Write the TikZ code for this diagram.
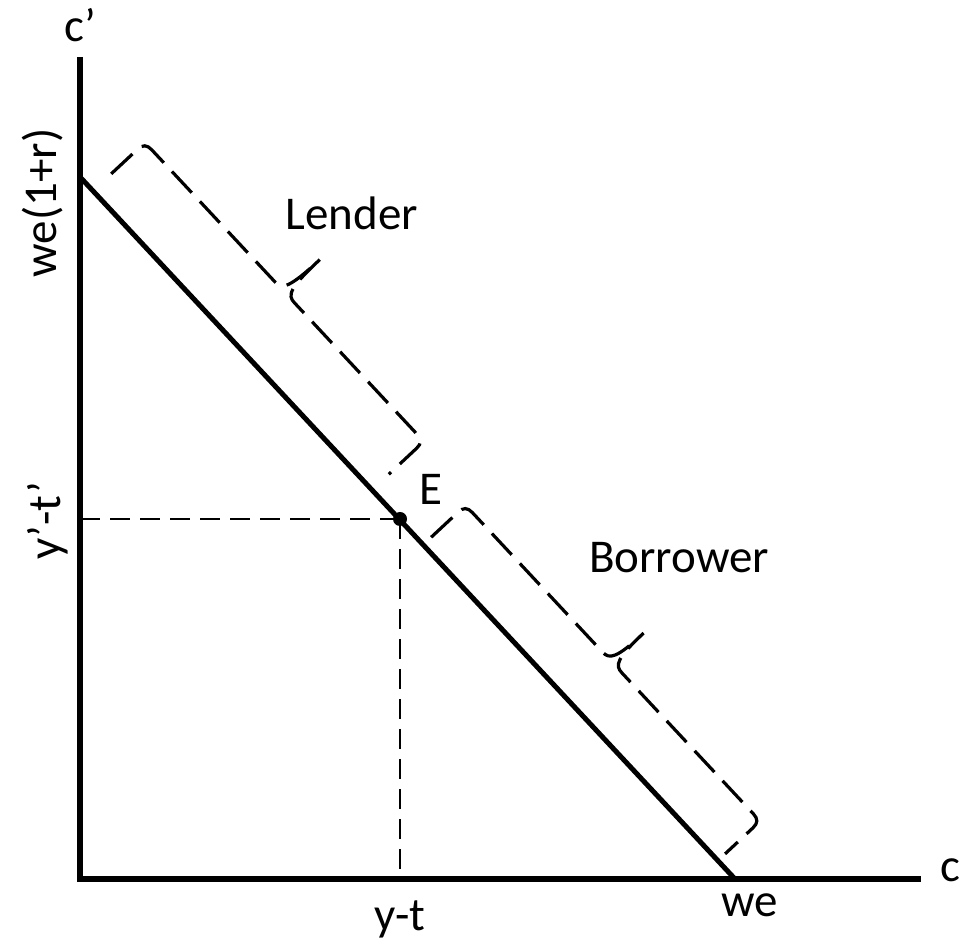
\documentclass[tikz,border=0pt]{standalone}
\usepackage{fontspec}
\setmainfont{Carlito}
\newcommand{\mybrace}[7]{% s e h m t f e2
  \draw[bracedash] (#1,#2) -- (#1,#3-10) .. controls (#1,#3-3) and (#1+3,#3) .. (#1+10,#3)
    -- (#4-14,#3) .. controls (#4-4,#3) and (#4,#3+6) .. (#4,#5)
    .. controls (#4,#3+6) and (#4+4,#3) .. (#4+14,#3)
    -- (#6-10,#3) .. controls (#6-3,#3) and (#6,#3-3) .. (#6,#3-10) -- (#6,#7);}
\begin{document}
\begin{tikzpicture}[x=1bp,y=1bp,
  axis/.style={line width=6bp},
  budget/.style={line width=5bp},
  guide/.style={line width=2.5bp, dash pattern=on 20bp off 10bp},
  bracedash/.style={line width=3.2bp, dash pattern=on 29bp off 12bp},
  lab/.style={font=\fontsize{47bp}{56bp}\selectfont, inner sep=0pt, anchor=base}]
\useasboundingbox (0,0) rectangle (972,941);
\coordinate (O) at (80,62);
\coordinate (Ytop) at (80,884);
\coordinate (Xend) at (921,62);
\coordinate (A) at (80,764);
\coordinate (B) at (735,62);
\coordinate (E) at (400,422);
\coordinate (Ey) at (80,422);
\coordinate (Ex) at (400,62);
\draw[guide] (Ey) -- (E);
\draw[guide] (E) -- (Ex);
\draw[axis, line join=miter] (Ytop) -- (O) -- (Xend);
\draw[budget] (A) -- (B);
\node[circle, fill, inner sep=0pt, minimum size=14bp] (dot) at (E) {};
\begin{scope}[shift={(A)}, rotate=-46.99]
  \mybrace{19}{25}{71}{224}{119}{428}{23}
  \mybrace{503}{11}{58}{718}{101}{935}{10}
\end{scope}
\node[lab] (cp) at (80,899) {c’};
\node[lab] (c) at (950,59) {c};
\node[lab] (we) at (750,24) {we};
\node[lab] (yt) at (400,10) {y-t};
\node[lab] (El) at (431,436) {E};
\node[lab] (Lender) at (352,711) {Lender};
\node[lab] (Borrower) at (679,368) {Borrower};
\node[lab, rotate=90] (we1r) at (56,738) {we(1+r)};
\node[lab, rotate=90] (ypt) at (60,420) {y’-t’};
\end{tikzpicture}
\end{document}
